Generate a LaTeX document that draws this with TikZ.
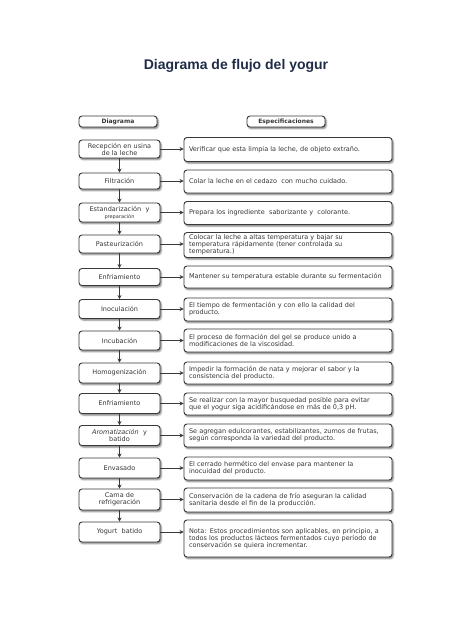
\documentclass[tikz,border=0pt]{standalone}
\usepackage{fontspec}
\setmainfont{DejaVu Sans}
\newfontfamily\titlefont{Liberation Sans}
\usetikzlibrary{shadows.blur,arrows.meta}
\definecolor{edge}{HTML}{383838}
\definecolor{txt}{HTML}{363636}
\definecolor{navy}{HTML}{1F2B47}
\begin{document}
\begin{tikzpicture}[x=1pt,y=-1pt,
 box/.style={draw=edge, line width=0.9pt, rounded corners=3pt, fill=white, text=txt,
   font=\fontsize{6.5}{6.9}\selectfont,
   blur shadow={shadow xshift=1.2pt,shadow yshift=-1.6pt,shadow blur radius=1.6pt,shadow opacity=55}},
 stepbox/.style={box, minimum width=81pt, text width=77pt, align=center, inner xsep=2pt, inner ysep=1pt},
 specbox/.style={box, minimum width=208pt, text width=198pt, align=left, inner xsep=5pt, inner ysep=1pt},
 headbox/.style={box, minimum width=78pt, minimum height=11pt, inner sep=1pt, font=\bfseries\fontsize{6}{6}\selectfont},
 arr/.style={draw=edge, line width=0.9pt, -{Stealth[length=4pt,width=4pt]}}]
\useasboundingbox (0,0) rectangle (474,632);

\node[font=\titlefont\bfseries\fontsize{14}{14}\selectfont, text=navy] (title) at (236,66) {Diagrama de flujo del yogur};

\node[headbox] (h1) at (118,121.5) {Diagrama};
\node[headbox] (h2) at (286,121.5) {Especificaciones};

\node[stepbox, minimum height=18pt] (l1) at (119.5,149) {Recepción en usina\\de la leche};
\node[specbox, minimum height=24pt] (r1) at (288,149.5) {Verificar que esta limpia la leche, de objeto extraño.};

\node[stepbox, minimum height=16pt] (l2) at (119.5,181) {Filtración};
\node[specbox, minimum height=23pt] (r2) at (288,181.5) {Colar la leche en el cedazo\ \ con mucho cuidado.};

\node[stepbox, minimum height=19pt] (l3) at (119.5,212.5) {Estandarización\ \ y\\{\fontsize{5}{5.5}\selectfont preparación}};
\node[specbox, minimum height=23pt] (r3) at (288,213) {Prepara los ingrediente\ \ saborizante y\ \ colorante.};

\node[stepbox, minimum height=18pt] (l4) at (119.5,244) {Pasteurización};
\node[specbox, minimum height=25pt] (r4) at (288,245) {Colocar\ la leche a altas temperatura y bajar\ su\\temperatura rápidamente (tener controlada\ su\\temperatura.)};

\node[stepbox, minimum height=17pt] (l5) at (119.5,277) {Enfriamiento};
\node[specbox, minimum height=22pt] (r5) at (288,277) {Mantener su temperatura estable durante su fermentación};

\node[stepbox, minimum height=19pt] (l6) at (119.5,309) {Inoculación};
\node[specbox, minimum height=23pt] (r6) at (288,309.5) {El tiempo de fermentación y con ello la calidad del\\producto.};

\node[stepbox, minimum height=19pt] (l7) at (119.5,340.5) {Incubación};
\node[specbox, minimum height=23pt] (r7) at (288,340.5) {El proceso de formación del gel se produce unido a\\modificaciones de la viscosidad.};

\node[stepbox, minimum height=20pt] (l8) at (119.5,373) {Homogenización};
\node[specbox, minimum height=22pt] (r8) at (288,373) {Impedir la formación de nata y mejorar el sabor y la\\consistencia del producto.};

\node[stepbox, minimum height=20pt] (l9) at (119.5,403.5) {Enfriamiento};
\node[specbox, minimum height=22pt] (r9) at (288,404) {Se realizar con la mayor busquedad posible para evitar\\que el yogur siga acidificándose en más de 0,3 pH.};

\node[stepbox, minimum height=20pt] (l10) at (119.5,435.5) {{\itshape Aromatización}\ \ y\\batido};
\node[specbox, minimum height=23pt] (r10) at (288,435.5) {Se agregan edulcorantes, estabilizantes, zumos de frutas,\\según corresponda la variedad del producto.};

\node[stepbox, minimum height=20pt] (l11) at (119.5,468) {Envasado};
\node[specbox, minimum height=23pt] (r11) at (288,468.5) {El cerrado hermético del envase para mantener la\\inocuidad del producto.};

\node[stepbox, minimum height=21pt] (l12) at (119.5,499.5) {Cama de\\refrigeración};
\node[specbox, minimum height=24pt] (r12) at (288,500) {Conservación de la cadena de frío aseguran la calidad\\sanitaria desde el fin de la producción.};

\node[stepbox, minimum height=20pt] (l13) at (119.5,532) {Yogurt\ \ batido};
\node[specbox, minimum height=37pt] (r13) at (288,538.5) {Nota: Estos procedimientos son aplicables, en principio, a\\todos los productos lácteos fermentados cuyo período de\\conservación se quiera incrementar.};

\foreach \i [evaluate=\i as \j using int(\i+1)] in {1,...,12}
  \draw[arr] (l\i.south) -- (l\j.north);
\foreach \i in {1,...,13}
  \draw[arr] (l\i.east) -- (l\i.east -| r\i.west);
\end{tikzpicture}
\end{document}
